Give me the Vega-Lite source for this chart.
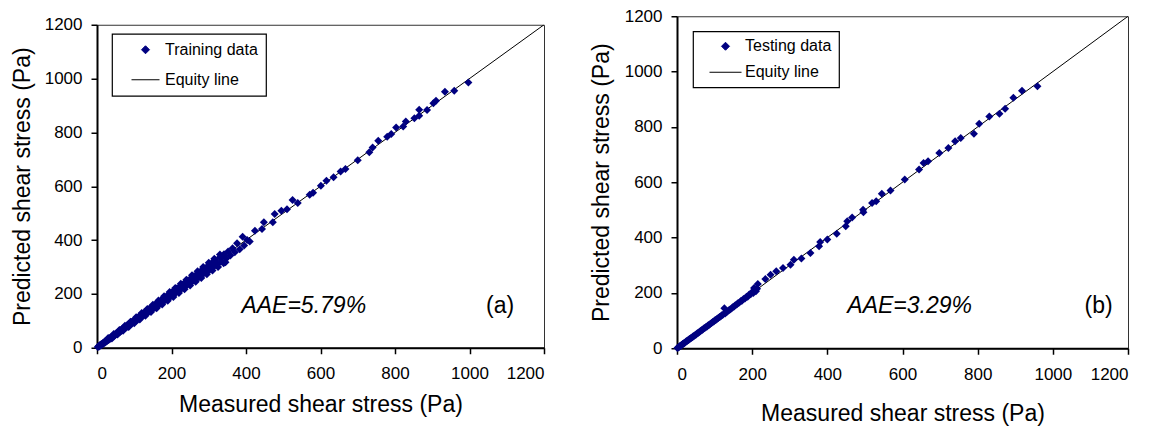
{
  "$schema": "https://vega.github.io/schema/vega-lite/v6.json",
  "padding": {"left": 10, "top": 6, "right": 5, "bottom": 0},
  "spacing": 43,
  "center": true,
  "datasets": {
    "training": [
      {"m":2,"p":3},{"m":4,"p":6},{"m":5,"p":4},{"m":7,"p":9},{"m":8,"p":7},{"m":10,"p":12},{"m":11,"p":10},{"m":13,"p":14},{"m":14,"p":12},{"m":16,"p":18},{"m":17,"p":15},{"m":19,"p":20},{"m":21,"p":19},{"m":22,"p":24},{"m":24,"p":22},{"m":26,"p":27},{"m":27,"p":25},{"m":29,"p":31},{"m":31,"p":29},{"m":33,"p":35},{"m":34,"p":32},{"m":36,"p":38},{"m":38,"p":36},{"m":40,"p":42},{"m":41,"p":39},{"m":43,"p":45},{"m":45,"p":42},{"m":47,"p":49},{"m":49,"p":47},{"m":51,"p":53},{"m":53,"p":50},{"m":55,"p":57},{"m":57,"p":54},{"m":59,"p":61},{"m":61,"p":58},{"m":63,"p":66},{"m":65,"p":62},{"m":67,"p":69},{"m":69,"p":66},{"m":71,"p":74},{"m":73,"p":70},{"m":75,"p":78},{"m":77,"p":74},{"m":80,"p":83},{"m":82,"p":78},{"m":84,"p":87},{"m":86,"p":82},{"m":88,"p":91},{"m":91,"p":87},{"m":93,"p":96},{"m":95,"p":91},{"m":98,"p":101},{"m":100,"p":96},{"m":102,"p":105},{"m":105,"p":100},{"m":107,"p":111},{"m":110,"p":105},{"m":112,"p":116},{"m":115,"p":110},{"m":117,"p":121},{"m":120,"p":115},{"m":122,"p":126},{"m":125,"p":120},{"m":127,"p":132},{"m":130,"p":124},{"m":133,"p":137},{"m":135,"p":130},{"m":138,"p":143},{"m":140,"p":135},{"m":143,"p":147},{"m":146,"p":140},{"m":148,"p":153},{"m":151,"p":145},{"m":154,"p":159},{"m":157,"p":150},{"m":160,"p":165},{"m":162,"p":156},{"m":165,"p":170},{"m":168,"p":161},{"m":171,"p":176},{"m":174,"p":167},{"m":177,"p":182},{"m":180,"p":173},{"m":183,"p":188},{"m":186,"p":179},{"m":189,"p":194},{"m":192,"p":185},{"m":195,"p":200},{"m":198,"p":190},{"m":201,"p":206},{"m":204,"p":196},{"m":208,"p":213},{"m":211,"p":203},{"m":214,"p":220},{"m":218,"p":209},{"m":221,"p":227},{"m":225,"p":216},{"m":229,"p":234},{"m":232,"p":223},{"m":236,"p":242},{"m":240,"p":230},{"m":244,"p":250},{"m":248,"p":238},{"m":252,"p":258},{"m":256,"p":246},{"m":260,"p":266},{"m":265,"p":254},{"m":269,"p":275},{"m":274,"p":262},{"m":278,"p":284},{"m":283,"p":271},{"m":288,"p":294},{"m":293,"p":281},{"m":298,"p":305},{"m":303,"p":290},{"m":308,"p":315},{"m":313,"p":300},{"m":318,"p":325},{"m":324,"p":310},{"m":330,"p":336},{"m":335,"p":320},{"m":341,"p":347},{"m":347,"p":332},{"m":352,"p":358},{"m":358,"p":343},{"m":364,"p":370},{"m":370,"p":355},{"m":376,"p":388},{"m":383,"p":366},{"m":391,"p":412},{"m":395,"p":380},{"m":403,"p":400},{"m":410,"p":395},
      {"m":20,"p":21},{"m":35,"p":35},{"m":50,"p":50},{"m":60,"p":60},{"m":70,"p":70},{"m":85,"p":85},{"m":97,"p":97},{"m":108,"p":108},{"m":120,"p":121},{"m":132,"p":131},{"m":145,"p":145},{"m":158,"p":158},{"m":170,"p":170},{"m":182,"p":182},{"m":195,"p":194},{"m":207,"p":207},{"m":220,"p":220},{"m":235,"p":234},{"m":250,"p":250},{"m":263,"p":262},{"m":345,"p":318},{"m":333,"p":335},{"m":318,"p":317},{"m":304,"p":298},{"m":290,"p":280},{"m":275,"p":267},
      {"m":30,"p":36},{"m":45,"p":51},{"m":60,"p":66},{"m":75,"p":82},{"m":90,"p":97},{"m":105,"p":113},{"m":120,"p":129},{"m":135,"p":144},{"m":150,"p":160},{"m":165,"p":176},{"m":180,"p":191},{"m":195,"p":207},{"m":210,"p":222},{"m":225,"p":238},{"m":240,"p":253},{"m":255,"p":269},{"m":270,"p":284},{"m":285,"p":300},{"m":300,"p":316},{"m":315,"p":331},{"m":330,"p":346},
      {"m":40,"p":34},{"m":55,"p":49},{"m":70,"p":63},{"m":85,"p":77},{"m":100,"p":91},{"m":115,"p":105},{"m":130,"p":119},{"m":145,"p":133},{"m":160,"p":147},{"m":175,"p":161},{"m":190,"p":175},{"m":205,"p":189},{"m":220,"p":203},{"m":235,"p":217},{"m":250,"p":231},{"m":265,"p":245},{"m":280,"p":259},{"m":295,"p":273},{"m":310,"p":287},{"m":325,"p":300},{"m":340,"p":314},
      {"m":424,"p":435},{"m":443,"p":441},{"m":448,"p":466},{"m":472,"p":466},{"m":477,"p":497},{"m":495,"p":509},{"m":510,"p":515},{"m":525,"p":549},{"m":539,"p":538},{"m":571,"p":568},{"m":580,"p":576},{"m":601,"p":602},{"m":616,"p":620},{"m":635,"p":633},{"m":654,"p":655},{"m":667,"p":664},{"m":700,"p":697},{"m":731,"p":726},{"m":740,"p":744},{"m":755,"p":769},{"m":779,"p":784},{"m":790,"p":794},{"m":803,"p":818},{"m":822,"p":822},{"m":829,"p":841},{"m":852,"p":853},{"m":865,"p":862},{"m":865,"p":884},{"m":886,"p":883},{"m":903,"p":908},{"m":910,"p":918},{"m":934,"p":951},{"m":959,"p":955},{"m":997,"p":985}
    ],
    "testing": [
      {"m":1,"p":1},{"m":3,"p":3},{"m":5,"p":4},{"m":7,"p":7},{"m":9,"p":8},{"m":11,"p":11},{"m":13,"p":12},{"m":15,"p":15},{"m":17,"p":16},{"m":19,"p":19},{"m":21,"p":20},{"m":24,"p":24},{"m":26,"p":25},{"m":28,"p":28},{"m":31,"p":30},{"m":33,"p":33},{"m":36,"p":35},{"m":38,"p":38},{"m":41,"p":40},{"m":43,"p":43},{"m":46,"p":45},{"m":49,"p":49},{"m":51,"p":50},{"m":54,"p":54},{"m":57,"p":56},{"m":60,"p":60},{"m":62,"p":61},{"m":65,"p":65},{"m":68,"p":67},{"m":71,"p":71},{"m":74,"p":73},{"m":77,"p":77},{"m":80,"p":79},{"m":83,"p":83},{"m":86,"p":85},{"m":89,"p":89},{"m":92,"p":91},{"m":95,"p":95},{"m":98,"p":97},{"m":101,"p":101},{"m":104,"p":103},{"m":107,"p":107},{"m":110,"p":109},{"m":113,"p":113},{"m":116,"p":115},{"m":119,"p":119},{"m":122,"p":121},{"m":126,"p":145},{"m":128,"p":126},{"m":131,"p":130},{"m":134,"p":133},{"m":138,"p":137},{"m":141,"p":140},{"m":145,"p":144},{"m":148,"p":148},{"m":152,"p":151},{"m":155,"p":155},{"m":159,"p":158},{"m":162,"p":163},{"m":166,"p":165},{"m":170,"p":171},{"m":173,"p":172},{"m":177,"p":178},{"m":181,"p":180},{"m":185,"p":186},{"m":188,"p":186},{"m":192,"p":194},{"m":196,"p":195},{"m":200,"p":203},{"m":203,"p":200},{"m":207,"p":212},{"m":210,"p":206},{"m":213,"p":215},
      {"m":205,"p":218},{"m":215,"p":232},{"m":235,"p":250},{"m":249,"p":266},{"m":264,"p":278},{"m":282,"p":290},{"m":302,"p":302},{"m":311,"p":320},{"m":331,"p":324},{"m":355,"p":344},{"m":378,"p":369},{"m":381,"p":384},{"m":400,"p":393},{"m":425,"p":414},{"m":449,"p":441},{"m":453,"p":459},{"m":466,"p":473},{"m":495,"p":501},{"m":496,"p":492},{"m":519,"p":525},{"m":530,"p":531},{"m":545,"p":558},{"m":568,"p":570},{"m":606,"p":610},{"m":644,"p":646},{"m":656,"p":670},{"m":668,"p":676},{"m":698,"p":706},{"m":722,"p":724},{"m":740,"p":748},{"m":755,"p":760},{"m":790,"p":775},{"m":804,"p":811},{"m":831,"p":838},{"m":858,"p":848},{"m":873,"p":866},{"m":895,"p":905},{"m":918,"p":931},{"m":959,"p":947}
    ],
    "equity": [{"m":0,"p":0},{"m":1200,"p":1200}],
    "aaeA": [{"m":555,"p":156,"label":"AAE=5.79%"}],
    "tagA": [{"m":1082,"p":156,"label":"(a)"}],
    "aaeB": [{"m":619,"p":152,"label":"AAE=3.29%"}],
    "tagB": [{"m":1122,"p":152,"label":"(b)"}]
  },
  "hconcat": [
    {
      "width": 447,
      "height": 323,
      "layer": [
        {
          "data": {"name": "equity"},
          "mark": {"type": "line", "strokeWidth": 1, "clip": true},
          "encoding": {
            "x": {"field": "m", "type": "quantitative", "scale": {"domain": [0,1200], "nice": false}, "axis": {"values": [0,200,400,600,800,1000,1200], "format": "d", "title": "Measured shear stress (Pa)", "titlePadding": 12}},
            "y": {"field": "p", "type": "quantitative", "scale": {"domain": [0,1200], "nice": false}, "axis": {"values": [0,200,400,600,800,1000,1200], "format": "d", "title": "Predicted shear stress (Pa)", "titlePadding": 10}},
            "color": {"datum": "Equity line", "type": "nominal",
              "scale": {"domain": ["Training data","Equity line"], "range": ["#000080","#000000"]},
              "legend": {"title": null, "orient": "none", "legendX": 15, "legendY": 9, "padding": 8, "rowPadding": 14, "labelFontSize": 16, "labelOffset": 11.5, "symbolSize": 729, "clipHeight": 16, "symbolOffset": 17.5,
                "strokeColor": "black", "fillColor": "white",
                "encode": {
                  "legend": {"update": {"strokeWidth": {"value": 1.2}, "width": {"value": 158}, "height": {"value": 43}}},
                  "symbols": {"update": {
                    "shape": {"signal": "datum.value === 'Equity line' ? 'stroke' : 'diamond'"},
                    "size": {"signal": "datum.value === 'Equity line' ? 784 : 64"},
                    "fill": {"signal": "datum.value === 'Equity line' ? 'transparent' : '#000080'"},
                    "stroke": {"signal": "datum.value === 'Equity line' ? '#000000' : 'transparent'"},
                    "strokeWidth": {"value": 1},
                    "opacity": {"value": 1}
                  }}
                }
              }
            }
          }
        },
        {
          "data": {"name": "training"},
          "mark": {"type": "point", "shape": "diamond", "filled": true, "size": 64, "opacity": 1},
          "encoding": {
            "x": {"field": "m", "type": "quantitative"},
            "y": {"field": "p", "type": "quantitative"},
            "color": {"datum": "Training data", "type": "nominal"}
          }
        },
        {
          "data": {"name": "aaeA"},
          "mark": {"type": "text", "fontSize": 23, "fontStyle": "italic", "align": "center", "baseline": "middle", "color": "black"},
          "encoding": {"x": {"field": "m", "type": "quantitative"}, "y": {"field": "p", "type": "quantitative"}, "text": {"field": "label"}}
        },
        {
          "data": {"name": "tagA"},
          "mark": {"type": "text", "fontSize": 23, "align": "center", "baseline": "middle", "color": "black"},
          "encoding": {"x": {"field": "m", "type": "quantitative"}, "y": {"field": "p", "type": "quantitative"}, "text": {"field": "label"}}
        }
      ]
    },
    {
      "width": 451,
      "height": 332,
      "layer": [
        {
          "data": {"name": "equity"},
          "mark": {"type": "line", "strokeWidth": 1, "clip": true},
          "encoding": {
            "x": {"field": "m", "type": "quantitative", "scale": {"domain": [0,1200], "nice": false}, "axis": {"values": [0,200,400,600,800,1000,1200], "format": "d", "title": "Measured shear stress (Pa)", "titlePadding": 20}},
            "y": {"field": "p", "type": "quantitative", "scale": {"domain": [0,1200], "nice": false}, "axis": {"values": [0,200,400,600,800,1000,1200], "format": "d", "title": "Predicted shear stress (Pa)", "titlePadding": 11}},
            "color": {"datum": "Equity line", "type": "nominal",
              "scale": {"domain": ["Testing data","Equity line"], "range": ["#000080","#000000"]},
              "legend": {"title": null, "orient": "none", "legendX": 16, "legendY": 15, "padding": 7, "rowPadding": 10, "labelFontSize": 16, "labelOffset": 11.5, "symbolSize": 729, "clipHeight": 16, "symbolOffset": 17.5,
                "strokeColor": "black", "fillColor": "white",
                "encode": {
                  "legend": {"update": {"strokeWidth": {"value": 1.2}, "width": {"value": 151}, "height": {"value": 37}}},
                  "symbols": {"update": {
                    "shape": {"signal": "datum.value === 'Equity line' ? 'stroke' : 'diamond'"},
                    "size": {"signal": "datum.value === 'Equity line' ? 1024 : 64"},
                    "fill": {"signal": "datum.value === 'Equity line' ? 'transparent' : '#000080'"},
                    "stroke": {"signal": "datum.value === 'Equity line' ? '#000000' : 'transparent'"},
                    "strokeWidth": {"value": 1},
                    "opacity": {"value": 1}
                  }}
                }
              }
            }
          }
        },
        {
          "data": {"name": "testing"},
          "mark": {"type": "point", "shape": "diamond", "filled": true, "size": 64, "opacity": 1},
          "encoding": {
            "x": {"field": "m", "type": "quantitative"},
            "y": {"field": "p", "type": "quantitative"},
            "color": {"datum": "Testing data", "type": "nominal"}
          }
        },
        {
          "data": {"name": "aaeB"},
          "mark": {"type": "text", "fontSize": 23, "fontStyle": "italic", "align": "center", "baseline": "middle", "color": "black"},
          "encoding": {"x": {"field": "m", "type": "quantitative"}, "y": {"field": "p", "type": "quantitative"}, "text": {"field": "label"}}
        },
        {
          "data": {"name": "tagB"},
          "mark": {"type": "text", "fontSize": 23, "align": "center", "baseline": "middle", "color": "black"},
          "encoding": {"x": {"field": "m", "type": "quantitative"}, "y": {"field": "p", "type": "quantitative"}, "text": {"field": "label"}}
        }
      ]
    }
  ],
  "resolve": {"scale": {"x": "independent", "y": "independent", "color": "independent"}, "legend": {"color": "independent"}, "axis": {"x": "independent", "y": "independent"}},
  "config": {
    "font": "Liberation Sans",
    "background": "white",
    "view": {"stroke": "#333333", "strokeWidth": 1},
    "axis": {"grid": false, "domainColor": "black", "domainWidth": 2, "tickColor": "black", "tickSize": 6, "tickWidth": 1.5, "labelFontSize": 17, "labelColor": "black", "labelPadding": 9, "titleFontSize": 23, "titleFontWeight": "normal", "titleColor": "black", "labelFont": "Liberation Sans", "titleFont": "Liberation Sans"},
    "axisX": {"labelPadding": 12},
    "legend": {"labelFont": "Liberation Sans", "labelColor": "black"},
    "title": {"font": "Liberation Sans"}
  }
}
